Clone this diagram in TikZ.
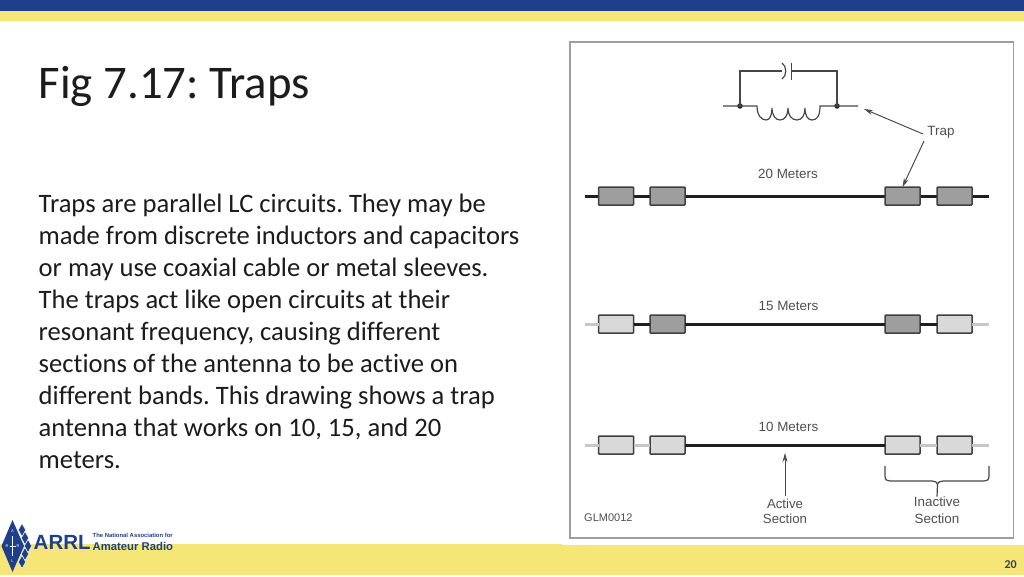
\documentclass[tikz,border=0pt]{standalone}
\usepackage{fontspec}
\setmainfont{Carlito}[Ligatures=NoCommon]
\newfontfamily\figfont{Liberation Sans}
\usetikzlibrary{arrows.meta,decorations.pathreplacing}
\definecolor{barblue}{HTML}{1F3F8C}
\definecolor{bandyel}{HTML}{F6E678}
\definecolor{figtxt}{HTML}{505050}
\definecolor{bodytxt}{HTML}{1C1C1C}
\frenchspacing
\tikzset{
  trapbox/.style={draw=black!75,line width=1.5pt,rounded corners=0.8pt,minimum width=35pt,minimum height=18pt,inner sep=0pt,outer sep=0pt},
  trapon/.style={trapbox,fill=black!38},
  trapoff/.style={trapbox,fill=black!15},
  livewire/.style={draw=black!88,line width=3pt},
  deadwire/.style={draw=black!22,line width=3pt},
  schem/.style={draw=black!72,line width=1.2pt},
  callout/.style={draw=black!70,line width=1pt,-{Stealth[length=9pt,width=5pt]}},
  figlabel/.style={font=\figfont\fontsize{13.4}{14}\selectfont,text=figtxt,inner sep=0pt},
  dot/.style={circle,fill=black!85,minimum size=5.5pt,inner sep=0pt},
  logod/.style={fill=barblue,draw=white,line width=0.4pt},
  logot/.style={inner sep=0pt,text=white,font=\figfont\fontsize{4}{4}\selectfont},
}
\begin{document}
\begin{tikzpicture}[x=1pt,y=-1pt]
\useasboundingbox (0,0) rectangle (1024,576);
\fill[white] (0,0) rectangle (1024,576);
% bands
\fill[barblue] (0,0) rectangle (1024,11);
\fill[bandyel] (0,11) rectangle (1024,21);
\fill[bandyel] (0,544) rectangle (1024,575);
\fill[white] (562,536) rectangle (1024,545);
% slide text
\node[anchor=base west,inner sep=0pt,text=bodytxt,font=\fontsize{46.8}{50}\selectfont] (title) at (38.5,98) {Fig 7.17: Traps};
\node[anchor=north west,inner sep=0pt,align=left,text=bodytxt,font=\fontsize{26.6}{32}\selectfont] (body) at (38.5,194) {Traps are parallel LC circuits. They may be\\made from discrete inductors and capacitors\\or may use coaxial cable or metal sleeves.\\The traps act like open circuits at their\\resonant frequency, causing different\\sections of the antenna to be active on\\different bands. This drawing shows a trap\\antenna that works on 10, 15, and 20\\meters.};
\node[anchor=base east,inner sep=0pt,text=black!75,font=\bfseries\fontsize{12}{14}\selectfont] (pagenum) at (1017,568) {20};
% figure frame
\node[draw=black!38,line width=1.6pt,fill=white,minimum width=443.5pt,minimum height=496pt,anchor=north west,inner sep=0pt] (frame) at (569,41) {};
% circuit
\node[dot] (dl) at (740,106) {};
\node[dot] (dr) at (837,106) {};
\coordinate (leadl) at (723,106);
\coordinate (leadr) at (858,106);
\coordinate (capl) at (785,71);
\coordinate (capr) at (791.5,71);
\draw[schem] (leadl) -- (757,106)
  .. controls (757,116) and (762,120) .. (766,120) .. controls (770,120) and (772,115) .. (772,108)
  .. controls (772,116) and (776,120) .. (780,120) .. controls (785,120) and (788,115) .. (788,108)
  .. controls (788,116) and (792,120) .. (797,120) .. controls (802,120) and (805,115) .. (805,108)
  .. controls (805,116) and (808,120) .. (812,120) .. controls (817,120) and (820,116) .. (820,106)
  -- (leadr);
\draw[schem] (dl.center) |- (capl);
\draw[schem] (dr.center) |- (capr);
\draw[schem,fill=white] (782,63) .. controls (787,66) and (787,76) .. (782,79);
\draw[schem] (capr)+(0,-8.5) -- +(0,8.5);
% labels
\node[figlabel] (trap) at (941,132.5) {Trap};
\node[figlabel] (m20) at (788,174) {20 Meters};
\node[figlabel] (m15) at (788.5,306) {15 Meters};
\node[figlabel] (m10) at (788.5,427) {10 Meters};
\node[figlabel,align=center,font=\figfont\fontsize{13.2}{15}\selectfont] (active) at (785,511) {Active\\Section};
\node[figlabel,align=center,font=\figfont\fontsize{13.4}{16.5}\selectfont] (inactive) at (937,510) {Inactive\\Section};
\node[figlabel,anchor=west,font=\figfont\fontsize{11}{12}\selectfont] (glm) at (584,517.5) {GLM0012};
% 20 m
\coordinate (a0) at (585,196); \coordinate (a5) at (989,196);
\draw[livewire] (a0) -- (a5);
\node[trapon] (a1) at (616,196) {};
\node[trapon] (a2) at (667.5,196) {};
\node[trapon] (a3) at (902.5,196) {};
\node[trapon] (a4) at (954.5,196) {};
% 15 m
\coordinate (b0) at (585,324); \coordinate (b5) at (989,324);
\node[trapoff] (b1) at (616,324) {};
\node[trapon] (b2) at (667.5,324) {};
\node[trapon] (b3) at (902.5,324) {};
\node[trapoff] (b4) at (954.5,324) {};
\draw[deadwire] (b0) -- (b1) (b4) -- (b5);
\draw[livewire] (b1) -- (b2) (b2) -- (b3) (b3) -- (b4);
% 10 m
\coordinate (c0) at (585,445); \coordinate (c5) at (989,445);
\node[trapoff] (c1) at (616,445) {};
\node[trapoff] (c2) at (667.5,445) {};
\node[trapoff] (c3) at (902.5,445) {};
\node[trapoff] (c4) at (954.5,445) {};
\draw[deadwire] (c0) -- (c1) (c1) -- (c2) (c3) -- (c4) (c4) -- (c5);
\draw[livewire] (c2) -- (c3);
% callouts
\coordinate (trapa) at (864,109);
\coordinate (traps) at (923,134);
\coordinate (trapt) at (924,141);
\coordinate (actip) at (785,453);
\draw[callout] (traps) -- (trapa);
\draw[callout] (trapt) -- (a3.north);
\draw[callout,shorten <=2.5pt] (active.north) -- (actip);
% brace
\coordinate (brl) at (885,466); \coordinate (brr) at (989,466);
\draw[schem] (brl) -- (885,476) .. controls (885,480) and (887,481) .. (890,481) -- (932,481) .. controls (935,481) and (937,482) .. (937.5,484) .. controls (938,482) and (940,481) .. (943,481) -- (984,481) .. controls (987,481) and (989,480) .. (989,476) -- (brr);
\draw[schem] (937.5,484) -- (inactive.north);
% logo
\fill[barblue] (12.5,520) -- (24,546) -- (12.5,572) -- (1.5,546) -- cycle;
\foreach \lx/\ly in {22/530,25/538,28/546,25/554,22/562}{
  \filldraw[logod] (\lx,\ly-6.5) -- (\lx+3.6,\ly) -- (\lx,\ly+6.5) -- (\lx-3.6,\ly) -- cycle;
}
\node[logot] (lga) at (12.5,531) {A};
\node[logot] (lgb) at (7,546) {R};
\node[logot] (lgc) at (18,546) {R};
\node[logot] (lgd) at (12.5,561) {L};
\draw[white,line width=0.5pt] (12.5,536) -- (12.5,556) (9.5,546) -- (15.5,546);
\node[anchor=base west,inner sep=0pt,text=barblue,font=\figfont\bfseries\fontsize{20.5}{22}\selectfont] (arrl) at (33.5,549.5) {ARRL};
\node[anchor=base west,inner sep=0pt,text=barblue,font=\figfont\bfseries\fontsize{5.9}{7}\selectfont] (tag1) at (92.5,537) {The National Association for};
\node[anchor=base west,inner sep=0pt,text=barblue,font=\figfont\bfseries\fontsize{11.3}{12}\selectfont] (tag2) at (92.5,550.5) {Amateur Radio};
\end{tikzpicture}
\end{document}
